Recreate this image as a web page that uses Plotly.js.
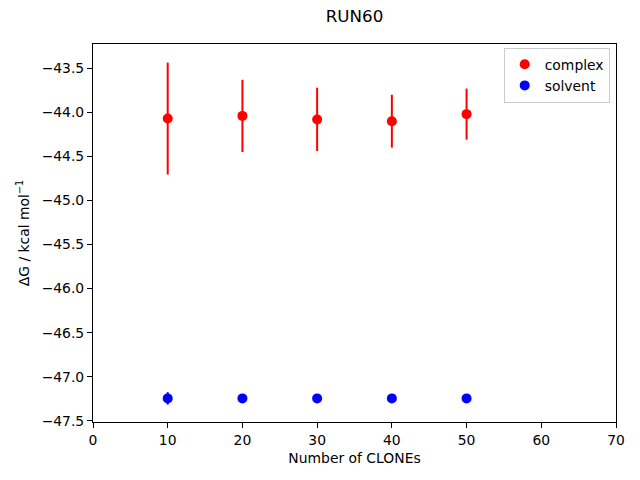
<!DOCTYPE html>
<html>
<head>
<meta charset="utf-8">
<script src="https://cdn.plot.ly/plotly-3.0.1.min.js"></script>
<style>html,body{margin:0;padding:0;background:#fff;}#chart{width:640px;height:480px;}</style>
</head>
<body>
<div id="chart"></div>
<script>
const clones = [10, 20, 30, 40, 50];
const complexDG = [-44.07, -44.04, -44.08, -44.10, -44.02];
const complexErr = [0.635, 0.41, 0.36, 0.30, 0.29];
const solventDG = [-47.246, -47.246, -47.246, -47.246, -47.246];
const solventErr = [0.07, 0.03, 0.01, 0.01, 0.01];

const font = {family: 'DejaVu Sans, sans-serif', size: 13.9, color: '#000'};

const traces = [
  {
    x: clones, y: complexDG, name: 'complex', type: 'scatter', mode: 'markers',
    marker: {color: '#ff0000', size: 10},
    error_y: {type: 'data', array: complexErr, visible: true, color: '#ff0000', thickness: 2, width: 0}
  },
  {
    x: clones, y: solventDG, name: 'solvent', type: 'scatter', mode: 'markers',
    marker: {color: '#0000ff', size: 10},
    error_y: {type: 'data', array: solventErr, visible: true, color: '#0000ff', thickness: 2, width: 0}
  }
];

const layout = {
  width: 640, height: 480,
  paper_bgcolor: '#fff', plot_bgcolor: '#fff',
  font: font,
  margin: {l: 93, r: 24, t: 44, b: 58},
  title: {text: 'RUN60', x: 0.5, xref: 'paper', y: 0.967, yref: 'container', yanchor: 'middle', font: {family: 'DejaVu Sans, sans-serif', size: 16.7, color: '#000'}},
  xaxis: {
    range: [0, 70], tickvals: [0, 10, 20, 30, 40, 50, 60, 70],
    showgrid: false, zeroline: false, showline: true, linecolor: '#000', linewidth: 1, mirror: true,
    ticks: 'outside', ticklen: 5, tickwidth: 1, tickcolor: '#000',
    title: {text: 'Number of CLONEs', font: font, standoff: 6}
  },
  yaxis: {
    range: [-47.514, -43.224], tickvals: [-47.5, -47, -46.5, -46, -45.5, -45, -44.5, -44, -43.5],
    ticktext: ['\u221247.5', '\u221247.0', '\u221246.5', '\u221246.0', '\u221245.5', '\u221245.0', '\u221244.5', '\u221244.0', '\u221243.5'],
    showgrid: false, zeroline: false, showline: true, linecolor: '#000', linewidth: 1, mirror: true,
    ticks: 'outside', ticklen: 5, tickwidth: 1, tickcolor: '#000',
    title: {text: '\u0394G / kcal mol<sup>\u22121</sup>', font: font, standoff: 8}
  },
  showlegend: true,
  legend: {
    x: 0.988, xanchor: 'right', y: 0.99, yanchor: 'top',
    bgcolor: 'rgba(255,255,255,0.8)', bordercolor: '#cccccc', borderwidth: 1,
    font: font, itemwidth: 30, tracegroupgap: 0
  }
};

Plotly.newPlot('chart', traces, layout, {displayModeBar: false, staticPlot: true});
</script>
</body>
</html>
